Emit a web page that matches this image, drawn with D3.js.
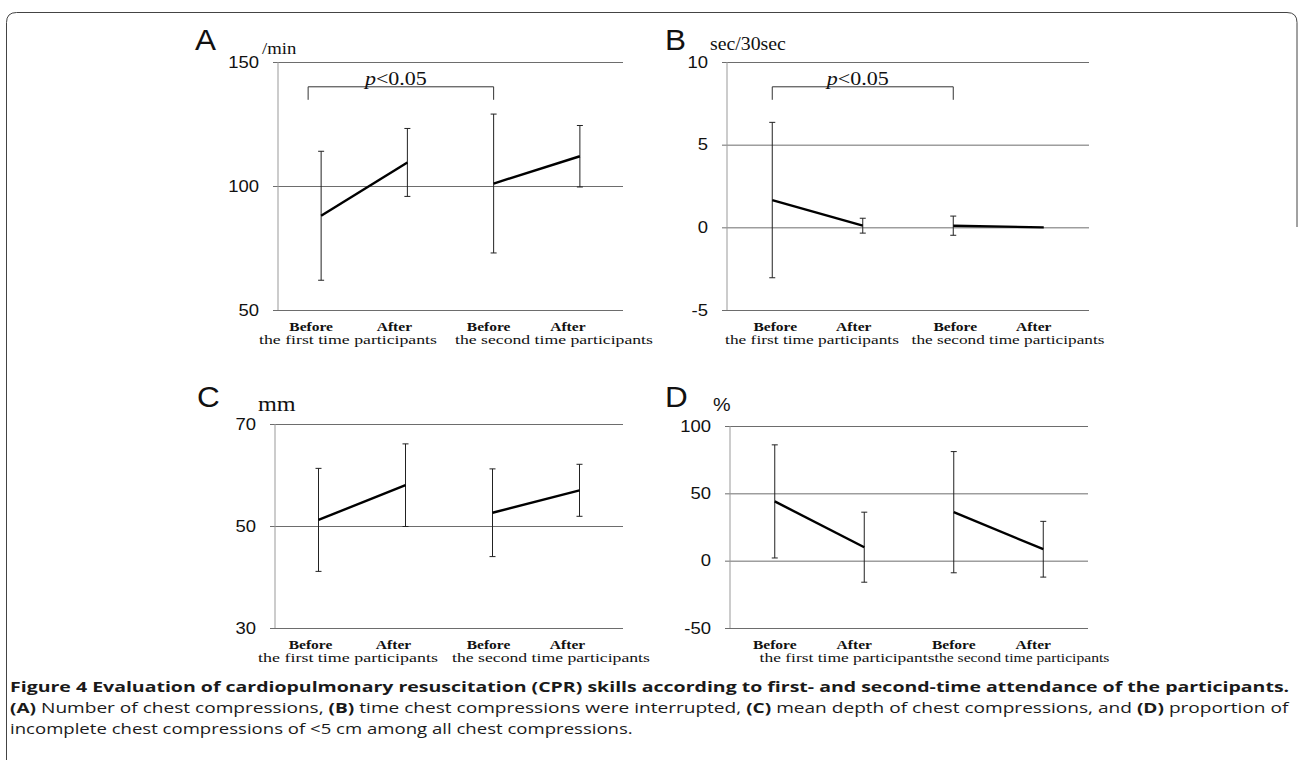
<!DOCTYPE html>
<meta charset="utf-8">
<script src="https://d3js.org/d3.v7.min.js"></script>
<style>
  body { margin: 0; background: #fff; }
</style>
<svg id="fig" width="1299" height="760"></svg>
<script>

  // categories along the x axis of every panel
  var conditions = ["Before", "After", "Before", "After"];
  var groupNames = ["the first time participants", "the second time participants"];

  // (A) number of chest compressions, /min
  var rateMean = [88, 109.5, 101, 112];
  var rateSD = [26, 13.7, 28, 12.4];
  var rateTicks = [50, 100, 150];

  // (B) time compressions were interrupted, sec/30sec
  var pauseMean = [1.65, 0.1, 0.1, 0.0];
  var pauseSD = [4.7, 0.45, 0.58, 0];
  var pauseTicks = [-5, 0, 5, 10];

  // (C) mean depth, mm
  var depthMean = [51.2, 58, 52.6, 57];
  var depthSD = [10.1, 8.1, 8.6, 5.1];
  var depthTicks = [30, 50, 70];

  // (D) incomplete compressions < 5 cm, %
  var shallowMean = [44, 10, 36, 8.5];
  var shallowSD = [42, 26, 45, 20.7];
  var shallowTicks = [-50, 0, 50, 100];

  // significance brackets (from, to category index, height in data units)
  var sigA = { from: 0, to: 2, level: 140, label: "<0.05" };
  var sigB = { from: 0, to: 2, level: 8.5, label: "<0.05" };

  var panels = [
    { letter: "A", unit: "/min", mean: rateMean, sd: rateSD, ticks: rateTicks, domain: [50, 150], sig: sigA,
      x0: 278, x1: 623, y0: 62, y1: 310, letterX: 195, letterY: 50, unitX: 262, unitY: 54, unitSize: 17, unitFont: "Liberation Serif",
      labelDx: [-10, -13, -5, -12], groups: [[348, 178], [554, 198]], sigDx: -13 },
    { letter: "B", unit: "sec/30sec", mean: pauseMean, sd: pauseSD, ticks: pauseTicks, domain: [-5, 10], sig: sigB,
      x0: 727, x1: 1089, y0: 62, y1: 310, letterX: 665, letterY: 50, unitX: 710, unitY: 50, unitSize: 18, unitFont: "Liberation Serif",
      labelDx: [3, -9, 2, -10], groups: [[812, 174], [1008, 193]], sigDx: 0 },
    { letter: "C", unit: "mm", mean: depthMean, sd: depthSD, ticks: depthTicks, domain: [30, 70], sig: null,
      x0: 275, x1: 623, y0: 424, y1: 628, letterX: 197, letterY: 407, unitX: 258, unitY: 411, unitSize: 22, unitFont: "Liberation Serif",
      labelDx: [-8, -12, -4, -12], groups: [[348, 180], [551, 198]] },
    { letter: "D", unit: "%", mean: shallowMean, sd: shallowSD, ticks: shallowTicks, domain: [-50, 100], sig: null,
      x0: 730, x1: 1088, y0: 426, y1: 628, letterX: 665, letterY: 407, unitX: 713, unitY: 411, unitSize: 18, unitFont: "Liberation Sans",
      labelDx: [0, -10, 0, -10], groups: [[847, 175], [1022, 175]] }
  ];

  var svg = d3.select("#fig");

  // rounded frame of the figure
  svg.append("path")
    .attr("d", "M6.5,760 L6.5,22.5 Q6.5,12.5 16.5,12.5 L1287,12.5 Q1297,12.5 1297,22.5 L1297,227")
    .attr("fill", "none")
    .attr("stroke", "#444")
    .attr("stroke-width", 1);

  // text stretched horizontally like the scanned figure
  function stretched(parent, x, y, str, size, family, sx, anchor, weight) {
    return parent.append("text")
      .attr("transform", "translate(" + x + "," + y + ") scale(" + sx + ",1)")
      .attr("text-anchor", anchor || "start")
      .style("font-family", family)
      .style("font-size", size + "px")
      .style("font-weight", weight || "normal")
      .attr("fill", "#111")
      .text(str);
  }

  panels.forEach(function (p) {
    var g = svg.append("g");
    var w = p.x1 - p.x0;

    var x = d3.scaleBand().domain(d3.range(conditions.length)).range([p.x0, p.x1]);
    var y = d3.scaleLinear().domain(p.domain).range([p.y1, p.y0]);
    var cx = function (i) { return x(i) + x.bandwidth() / 2; };

    // gridlines + tick labels
    var ax = g.append("g")
      .attr("transform", "translate(" + (p.x0 - 5) + ",0)")
      .call(d3.axisLeft(y).tickValues(p.ticks).tickSize(-(w + 5)).tickPadding(14)
        .tickFormat(function (d) { return String(d); }));
    ax.select(".domain").remove();
    ax.selectAll(".tick line").attr("stroke", "#6d6d6d").attr("stroke-width", 1);
    ax.selectAll(".tick text")
      .style("font-family", "Liberation Sans")
      .style("font-size", "16.5px")
      .attr("fill", "#111")
      .attr("x", -14 / 1.12)
      .attr("transform", "scale(1.12,1)");

    // y axis line
    g.append("line")
      .attr("x1", p.x0).attr("x2", p.x0)
      .attr("y1", p.y0).attr("y2", p.y1)
      .attr("stroke", "#999").attr("stroke-width", 1);

    // error bars
    var bars = g.selectAll(".err")
      .data(p.mean.map(function (m, i) { return { i: i, m: m, s: p.sd[i] }; }).filter(function (d) { return d.s > 0; }))
      .enter().append("g").attr("class", "err");
    bars.append("line")
      .attr("x1", function (d) { return cx(d.i); }).attr("x2", function (d) { return cx(d.i); })
      .attr("y1", function (d) { return y(d.m + d.s); }).attr("y2", function (d) { return y(d.m - d.s); })
      .attr("stroke", "#222").attr("stroke-width", 1);
    [1, -1].forEach(function (sgn) {
      bars.append("line")
        .attr("x1", function (d) { return cx(d.i) - 3; }).attr("x2", function (d) { return cx(d.i) + 3; })
        .attr("y1", function (d) { return y(d.m + sgn * d.s); }).attr("y2", function (d) { return y(d.m + sgn * d.s); })
        .attr("stroke", "#222").attr("stroke-width", 1);
    });

    // mean lines, one per attendance group
    var line = d3.line()
      .x(function (d) { return cx(d.i); })
      .y(function (d) { return y(d.m); });
    [[0, 1], [2, 3]].forEach(function (pair) {
      g.append("path")
        .datum(pair.map(function (i) { return { i: i, m: p.mean[i] }; }))
        .attr("d", line)
        .attr("fill", "none")
        .attr("stroke", "#000")
        .attr("stroke-width", 2.4);
    });

    // significance bracket
    if (p.sig) {
      var bx1 = cx(p.sig.from) + p.sigDx, bx2 = cx(p.sig.to), by = y(p.sig.level);
      g.append("path")
        .attr("d", "M" + bx1 + "," + (by + 13) + "V" + by + "H" + bx2 + "V" + (by + 13))
        .attr("fill", "none").attr("stroke", "#333").attr("stroke-width", 1);
      var t = stretched(g, (bx1 + bx2) / 2 - 5, by - 2, "", 19.5, "Liberation Serif", 1.13, "middle");
      t.append("tspan").style("font-style", "italic").text("p");
      t.append("tspan").text(p.sig.label);
    }

    // panel letter and unit
    stretched(g, p.letterX, p.letterY, p.letter, 30, "Liberation Sans", 1.05);
    stretched(g, p.unitX, p.unitY, p.unit, p.unitSize, p.unitFont, 1.1);

    // x labels
    conditions.forEach(function (c, i) {
      stretched(g, cx(i) + p.labelDx[i], p.y1 + 20.5, c, 13.5, "Liberation Serif", 1.15, "middle", "bold");
    });
    groupNames.forEach(function (name, k) {
      var t = stretched(g, 0, 0, name, 13.5, "Liberation Serif", 1, "middle");
      var len = t.node().getComputedTextLength();
      t.attr("transform", "translate(" + p.groups[k][0] + "," + (p.y1 + 34) + ") scale(" + (p.groups[k][1] / len) + ",1)");
    });
  });

  // caption
  var caption = [
    { y: 692, width: 1280, parts: [["Figure 4 Evaluation of cardiopulmonary resuscitation (CPR) skills according to first- and second-time attendance of the participants.", true]] },
    { y: 713, width: 1280, parts: [["(A)", true], [" Number of chest compressions, ", false], ["(B)", true], [" time chest compressions were interrupted, ", false],
      ["(C)", true], [" mean depth of chest compressions, and ", false], ["(D)", true], [" proportion of", false]] },
    { y: 734, width: 623, parts: [["incomplete chest compressions of <5 cm among all chest compressions.", false]] }
  ];
  caption.forEach(function (row) {
    var t = svg.append("text")
      .style("font-family", "Open Sans")
      .style("font-size", "14px")
      .attr("fill", "#1a1a1a");
    row.parts.forEach(function (part) {
      t.append("tspan").style("font-weight", part[1] ? "bold" : "normal").text(part[0]);
    });
    var len = t.node().getComputedTextLength();
    t.attr("transform", "translate(10," + row.y + ") scale(" + (row.width / len) + ",1)");
  });

</script>
